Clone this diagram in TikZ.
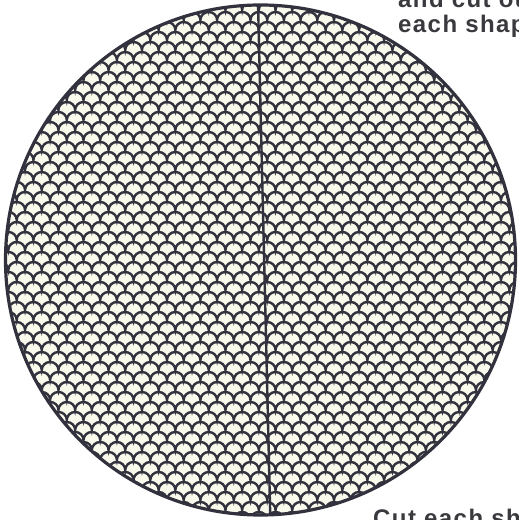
\documentclass[tikz,border=0pt]{standalone}
\usepackage{fontspec}
\newfontfamily\capfont[LetterSpace=6]{Liberation Sans}
\begin{document}
\begin{tikzpicture}[x=1pt,y=1pt]
\definecolor{ink}{RGB}{50,50,62}
\definecolor{paper}{RGB}{250,250,236}
\definecolor{txt}{RGB}{58,58,62}
\tikzset{
  scaleline/.style={draw=ink, line width=2.4pt},
  rimline/.style={draw=ink, line width=3.2pt},
  cutline/.style={draw=ink, line width=2.4pt},
  caption/.style={anchor=base west, inner sep=0pt, text=txt,
    font=\capfont\bfseries\fontsize{24}{24}\selectfont}
}
\useasboundingbox (0,0) rectangle (519,520);
\fill[white] (0,0) rectangle (519,520);
\node[circle, minimum size=510pt, inner sep=0pt, fill=paper] (disc) at (260.5,260) {};
\coordinate (ltop) at (258,518);
\coordinate (lbot) at (270.3,2);
\begin{scope}
  \clip (disc.center) circle[radius=255];
  \foreach \k in {-27,...,27} {
    \pgfmathsetmacro{\yb}{260+10*\k}
    \pgfmathsetmacro{\xs}{-16.7+8.35*mod(\k+100,2)}
    \path[scaleline] (\xs,\yb) \foreach \j in {1,...,34} {arc[start angle=180,end angle=0,x radius=8.35,y radius=8]};
  }
  \path[cutline] (ltop) -- (lbot);
\end{scope}
\path[rimline] (disc.center) circle[radius=255];
\node[caption] (t1) at (398,512) {and cut ou};
\node[caption] (t2) at (398,487) {each shap};
\node[caption] (t3) at (373,-6) {Cut each sh};
\end{tikzpicture}
\end{document}
